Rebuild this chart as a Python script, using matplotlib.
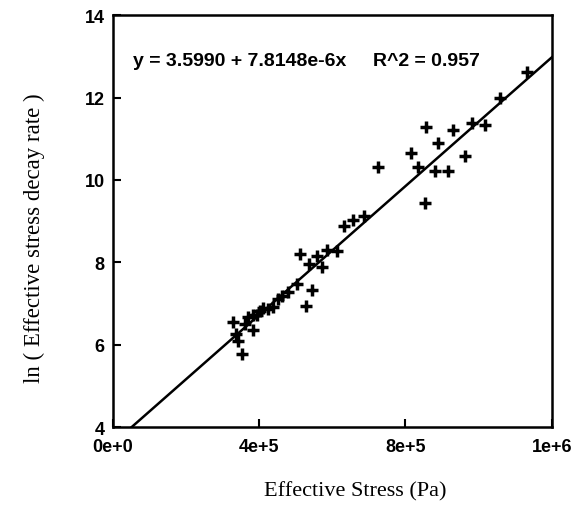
import matplotlib
matplotlib.use("Agg")
import matplotlib.pyplot as plt
from matplotlib.font_manager import FontProperties
import numpy as np

# effective stress (Pa) and ln(effective stress decay rate)
stress = [327200, 336200, 342500, 352600, 360800, 369800, 384100, 381900,
          392800, 401800, 410800, 424500, 437400, 451900, 462000, 478400,
          504300, 528900, 544000, 511200, 535800, 557600, 572700, 586300,
          612300, 631400, 657400, 686100, 724400, 815400, 834500, 852800,
          854800, 880200, 889200, 915700, 930200, 963000, 982700, 1018400,
          1057900, 1130900]
ln_rate = [6.55, 6.26, 6.10, 5.77, 6.50, 6.67, 6.36, 6.72,
           6.71, 6.82, 6.89, 6.87, 6.92, 7.11, 7.19, 7.27,
           7.47, 6.95, 7.33, 8.19, 7.96, 8.15, 7.88, 8.29,
           8.27, 8.88, 9.03, 9.12, 10.31, 10.65, 10.31, 9.43,
           11.28, 10.22, 10.90, 10.22, 11.22, 10.59, 11.39, 11.33,
           11.99, 12.61]

intercept = 3.5990
slope = 7.8148e-6
x_ticks = [0, 4e5, 8e5, 1.2e6]
x_tick_labels = ["0e+0", "4e+5", "8e+5", "1e+6"]
y_ticks = [4, 6, 8, 10, 12, 14]

fig = plt.figure(figsize=(5.79, 5.06), dpi=100)
ax = fig.add_axes([0.195, 0.154, 0.758, 0.814])

ax.plot(stress, ln_rate, linestyle="none", marker="+", color="black",
        markersize=8.5, markeredgewidth=2.5)

x_fit = np.array([0, 1.2e6])
ax.plot(x_fit, intercept + slope * x_fit, color="black", linewidth=1.8)

ax.set_xlim(0, 1.2e6)
ax.set_ylim(4, 14)
ax.set_xticks(x_ticks)
ax.set_xticklabels(x_tick_labels)
ax.set_yticks(y_ticks)

tick_font = FontProperties(family="Liberation Sans", weight="bold", size=13)
for lab in ax.get_xticklabels() + ax.get_yticklabels():
    lab.set_fontproperties(tick_font)

ax.tick_params(direction="in", length=6, width=1.5)
ax.tick_params(axis="x", pad=8)
ax.tick_params(axis="y", pad=6)
for sp in ax.spines.values():
    sp.set_linewidth(1.8)

# fit equation, drawn as two pieces to keep the wide gap between them
eq_font = dict(transform=ax.transAxes, fontfamily="Liberation Sans",
               fontweight="bold", fontsize=14, va="center", ha="left")
ax.text(0.046, 0.891, "y = 3.5990 + 7.8148e-6x", **eq_font)
ax.text(0.592, 0.891, "R^2 = 0.957", **eq_font)

ax.set_xlabel("Effective Stress (Pa)", fontfamily="Liberation Serif",
              fontsize=16)
ax.set_ylabel("ln ( Effective stress decay rate )",
              fontfamily="Liberation Serif", fontsize=16.5)
ax.xaxis.set_label_coords(0.553, -0.13)
ax.yaxis.set_label_coords(-0.155, 0.46)

fig.savefig("out.png", dpi=100)
